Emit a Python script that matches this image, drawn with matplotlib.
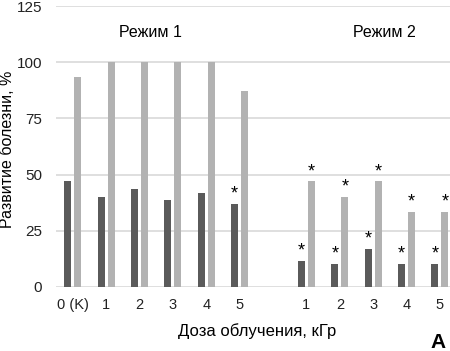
import matplotlib.pyplot as plt
import numpy as np

plt.rcParams['font.family'] = ['Liberation Sans', 'DejaVu Sans']
plt.rcParams['font.size'] = 10

# data
labels = ['0 (K)', '1', '2', '3', '4', '5', '1', '2', '3', '4', '5']
dark = [47, 40, 43.5, 38.5, 42, 37, 11.7, 10.2, 17, 10.2, 10.2]
light = [93.5, 100, 100, 100, 100, 87, 47, 40, 47, 33.5, 33.5]
dark_star = [False, False, False, False, False, True, True, True, True, True, True]
light_star = [False, False, False, False, False, False, True, True, True, True, True]
pos = [0, 1, 2, 3, 4, 5, 7, 8, 9, 10, 11]

c_dark = '#5a5a5a'
c_light = '#b2b2b2'

fig = plt.figure(figsize=(4.5, 3.51), dpi=100)
ax = fig.add_axes([56/450, 64/351, 394/450, 281/351])

x = np.array(pos)
off = 0.15
w = 0.21
ax.bar(x - off, dark, w, color=c_dark, zorder=3)
ax.bar(x + off, light, w, color=c_light, zorder=3)

# significance marks
for xi, v, s in zip(x, dark, dark_star):
    if s:
        ax.text(xi - off, v + 0.5, '*', ha='center', va='bottom', fontsize=13)
for xi, v, s in zip(x, light, light_star):
    if s:
        ax.text(xi + off, v + 0.5, '*', ha='center', va='bottom', fontsize=13)

ax.set_xlim(-0.5, 11.3)
ax.set_ylim(0, 125)
ax.set_yticks([0, 25, 50, 75, 100, 125])
ax.set_xticks(x)
ax.set_xticklabels(labels, fontsize=10.5)
ax.tick_params(length=0, colors='#222222', pad=8)
ax.tick_params(axis='y', pad=10, labelsize=11)
ax.yaxis.grid(True, color='#d9d9d9', lw=1.2, zorder=0)
for s in ax.spines.values():
    s.set_visible(False)

fig.text(8/450, 1 - 149/351, 'Развитие болезни, %', rotation=90,
         ha='center', va='center', fontsize=11.5)
ax.set_xlabel('Доза облучения, кГр', labelpad=9, fontsize=12)
ax.xaxis.set_label_coords(0.511, -0.128)

ax.text(2.34, 113.4, 'Режим 1', ha='center', va='center', fontsize=11.5)
ax.text(9.32, 113.4, 'Режим 2', ha='center', va='center', fontsize=11.5)
fig.text(438/450, 1 - 342/351, 'A', ha='center', va='center', fontsize=15, fontweight='bold')

fig.savefig('out.png', dpi=100)
